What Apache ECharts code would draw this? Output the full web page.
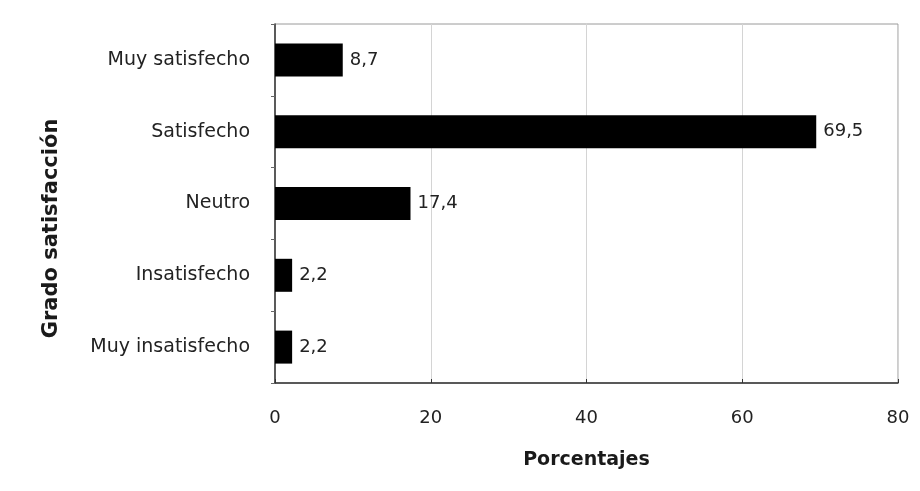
<!DOCTYPE html>
<html>
<head>
<meta charset="utf-8">
<script src="https://cdn.jsdelivr.net/npm/echarts@6/dist/echarts.min.js"></script>
<style>
  html, body { margin: 0; padding: 0; background: #fff; }
  #chart { width: 920px; height: 491px; }
</style>
</head>
<body>
<div id="chart"></div>
<script>
// Satisfaction levels, top to bottom
const categories = ['Muy satisfecho', 'Satisfecho', 'Neutro', 'Insatisfecho', 'Muy insatisfecho'];
// Percentage for each level
const percentages = [8.7, 69.5, 17.4, 2.2, 2.2];
// Value axis ticks
const xTicks = [0, 20, 40, 60, 80];

const FONT = 'DejaVu Sans';
const chart = echarts.init(document.getElementById('chart'), null, { renderer: 'canvas' });

chart.setOption({
  backgroundColor: '#ffffff',
  animation: false,
  grid: {
    left: 275, right: 22, top: 24, bottom: 108,
    show: true, borderColor: '#9a9a9a', borderWidth: 1, backgroundColor: 'transparent'
  },
  xAxis: {
    type: 'value',
    min: xTicks[0],
    max: xTicks[xTicks.length - 1],
    interval: xTicks[1] - xTicks[0],
    name: 'Porcentajes',
    nameLocation: 'middle',
    nameGap: 68,
    nameTextStyle: { fontFamily: FONT, fontSize: 19, fontWeight: 'bold', color: '#1a1a1a' },
    axisLine: { show: true, lineStyle: { color: '#333', width: 1.5 } },
    axisTick: { show: true, length: 4, inside: true, lineStyle: { color: '#333' } },
    axisLabel: { margin: 26, fontFamily: FONT, fontSize: 18, color: '#222' },
    splitLine: { show: true, lineStyle: { color: '#d4d4d4', width: 1 } }
  },
  yAxis: {
    type: 'category',
    data: categories,
    inverse: true,
    name: 'Grado satisfacción',
    nameLocation: 'middle',
    nameGap: 213,
    nameTextStyle: {
      fontFamily: FONT, fontSize: 21, fontWeight: 'bold', color: '#1a1a1a',
      padding: [0, 50, 0, 0]
    },
    axisLine: { show: true, lineStyle: { color: '#333', width: 1.5 } },
    axisTick: { show: true, length: 4, lineStyle: { color: '#666' } },
    axisLabel: { margin: 25, fontFamily: FONT, fontSize: 19, color: '#222' },
    splitLine: { show: false }
  },
  series: [{
    type: 'bar',
    data: percentages,
    barWidth: 33,
    itemStyle: { color: '#000000' },
    label: {
      show: true,
      position: 'right',
      distance: 7,
      fontFamily: FONT,
      fontSize: 18,
      color: '#222',
      formatter: p => String(p.value).replace('.', ',')
    }
  }]
});
</script>
</body>
</html>
